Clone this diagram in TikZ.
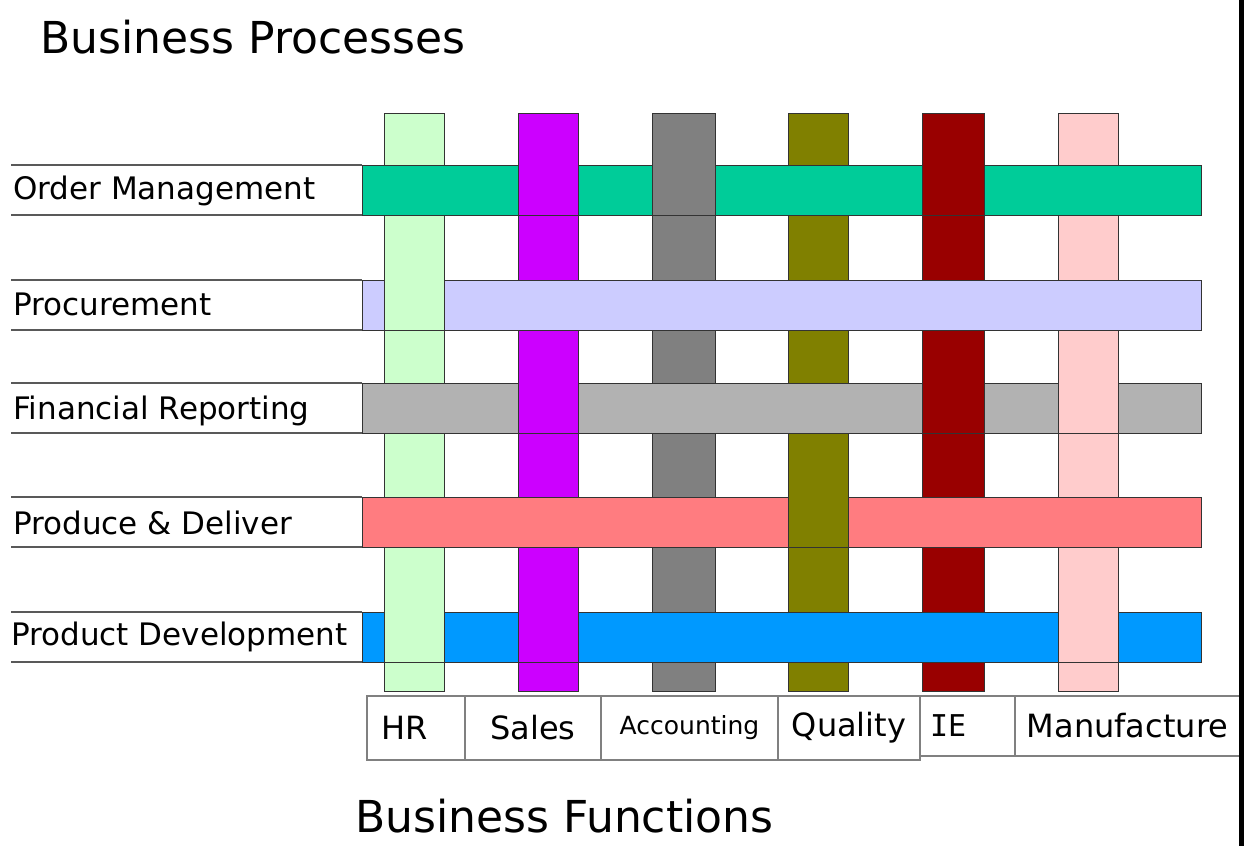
\documentclass[tikz,border=0pt]{standalone}
\usepackage{fontspec}
\setmainfont{DejaVu Sans}
\newfontfamily\iefont{DejaVu Sans Mono}
\usepackage{tikz}
\usetikzlibrary{positioning}

\definecolor{hrgreen}{HTML}{CCFFCC}
\definecolor{salesmag}{HTML}{CC00FF}
\definecolor{acctgray}{HTML}{808080}
\definecolor{qualolive}{HTML}{808000}
\definecolor{iered}{HTML}{990000}
\definecolor{manupink}{HTML}{FFCCCC}
\definecolor{ordteal}{HTML}{00CC99}
\definecolor{proclav}{HTML}{CCCCFF}
\definecolor{fingray}{HTML}{B2B2B2}
\definecolor{prodsalmon}{HTML}{FF7C80}
\definecolor{devblue}{HTML}{0099FF}

% column passes over a row: repaint the column piece and its two sides
\newcommand{\colover}[3]{%
 \fill[#3] (#1.west |- #2.north) rectangle (#1.east |- #2.south);
 \draw[barline] (#1.west |- #2.north) -- (#1.west |- #2.south)
               (#1.east |- #2.north) -- (#1.east |- #2.south);}

\begin{document}
\begin{tikzpicture}[x=1pt,y=-1pt,
  barline/.style={draw=black!80,line width=1pt},
  colbar/.style={barline,outer sep=0pt,inner sep=0pt,minimum width=60pt,minimum height=578pt},
  rowbar/.style={barline,outer sep=0pt,inner sep=0pt,minimum width=839pt,minimum height=50pt},
  labelline/.style={draw=black!65,line width=2pt},
  rowtext/.style={anchor=west,inner sep=0pt,font=\fontsize{31}{36}\selectfont},
  title/.style={inner sep=0pt,font=\fontsize{44}{50}\selectfont},
  funcbox/.style={draw=black!50,line width=1.5pt,outer sep=0pt,inner sep=0pt,anchor=north west,
    minimum height=64pt,font=\fontsize{32}{38}\selectfont}]
 \useasboundingbox (0,0) rectangle (1251,846);

 \node[title,anchor=west] (proctitle) at (40,37) {Business Processes};

 % business functions (columns)
 \node[colbar,fill=hrgreen] (hr) at (414.5,402) {};
 \node[colbar,fill=salesmag] (sales) at (548,402) {};
 \node[colbar,fill=acctgray,minimum width=63pt] (acct) at (683.5,402) {};
 \node[colbar,fill=qualolive] (qual) at (818.5,402) {};
 \node[colbar,fill=iered,minimum width=62pt] (ie) at (953,402) {};
 \node[colbar,fill=manupink] (manu) at (1088,402) {};

 % business processes (rows)
 \node[rowbar,fill=ordteal] (ordr) at (781.5,190) {};
 \node[rowbar,fill=proclav] (proc) at (781.5,305) {};
 \node[rowbar,fill=fingray] (finr) at (781.5,408) {};
 \node[rowbar,fill=prodsalmon] (prdl) at (781.5,522) {};
 \node[rowbar,fill=devblue] (pdev) at (781.5,637) {};

 % weave
 \colover{sales}{ordr}{salesmag}
 \colover{acct}{ordr}{acctgray}
 \colover{ie}{ordr}{iered}
 \colover{hr}{proc}{hrgreen}
 \colover{sales}{finr}{salesmag}
 \colover{ie}{finr}{iered}
 \colover{manu}{finr}{manupink}
 \colover{qual}{prdl}{qualolive}
 \colover{hr}{pdev}{hrgreen}
 \colover{sales}{pdev}{salesmag}
 \colover{manu}{pdev}{manupink}

 % row labels
 \foreach \r in {ordr,proc,finr,prdl,pdev}{
  \draw[labelline] (\r.north west) -- ++(-351,0);
  \draw[labelline] (\r.south west) -- ++(-351,0);
 }
 \node[rowtext] (ordrtext) at (13,191) {Order Management};
 \node[rowtext] (proctext) at (13,304) {Procurement};
 \node[rowtext] (finrtext) at (13,411) {Financial Reporting};
 \node[rowtext] (prdltext) at (13,523) {Produce \& Deliver};
 \node[rowtext] (pdevtext) at (11,637) {Product Development};

 % function boxes
 \node[funcbox,minimum width=98pt,inner xsep=14pt,text width=70pt,align=left] (hrbox) at (367,696) {HR};
 \node[funcbox,minimum width=136pt] (salesbox) at (hrbox.north east) {Sales};
 \node[funcbox,minimum width=177pt,font=\fontsize{25}{30}\selectfont] (acctbox) at (salesbox.north east) {Accounting};
 \node[funcbox,minimum width=142pt] (qualbox) at (acctbox.north east) {Quality};
 \node[funcbox,minimum width=95pt,minimum height=60pt,inner xsep=10pt,text width=75pt,align=left,
   font=\iefont\fontsize{30}{36}\selectfont] (iebox) at (qualbox.north east) {IE};
 \node[funcbox,minimum width=225pt,minimum height=60pt] (manubox) at (iebox.north east) {Manufacture};

 \node[title,anchor=west] (functitle) at (355,816) {Business Functions};

 % right frame edge
 \draw[line width=5pt] (1241.5,0) -- (1241.5,846);
\end{tikzpicture}
\end{document}
